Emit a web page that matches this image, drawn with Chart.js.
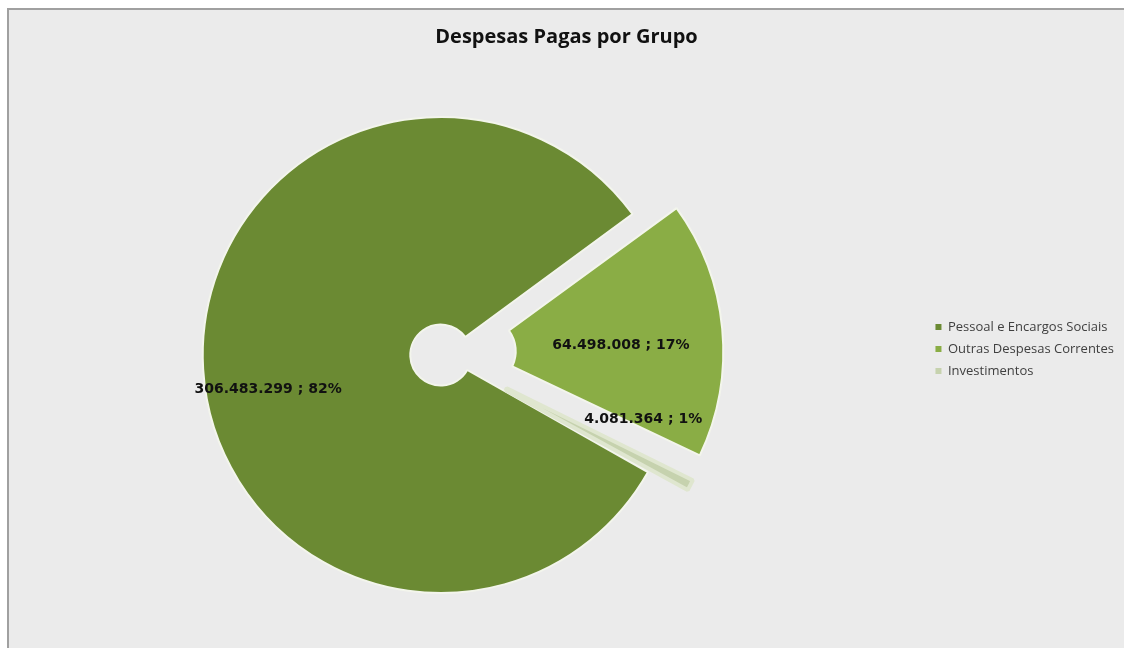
<!DOCTYPE html>
<html>
<head>
<meta charset="utf-8">
<script src="https://cdn.jsdelivr.net/npm/chart.js@4.4.1/dist/chart.umd.min.js"></script>
<style>
  html, body { margin: 0; padding: 0; background: #ffffff; }
  #frame {
    position: absolute; left: 7px; top: 8px; width: 1117px; height: 640px;
    box-sizing: border-box; background: #ebebeb;
    border-left: 2px solid #a0a0a0; border-top: 2px solid #a0a0a0;
  }
  #wrap { position: relative; width: 1115px; height: 638px; }
</style>
</head>
<body>
<div id="frame"><div id="wrap"><canvas id="grafico"></canvas></div></div>
<script>
// Dados do gráfico
const grupos = ['Pessoal e Encargos Sociais', 'Outras Despesas Correntes', 'Investimentos'];
const valores = [306483299, 64498008, 4081364];
const cores = ['#6b8a33', '#8aad45', '#c6d2ae'];
const destaque = [0, 160, 90]; // "explode" das fatias

function formatarNumero(n) {
  return String(n).replace(/\B(?=(\d{3})+(?!\d))/g, '.');
}

// Encolhe a área da pizza pela direita e desce um pouco a legenda
const areaPizza = {
  id: 'areaPizza',
  afterLayout(chart, args, opts) {
    const a = chart.chartArea;
    a.right -= opts.shrinkRight;
    a.width = a.right - a.left;
    chart.legend.top += opts.legendDown * 2;
  }
};

// Rótulos "valor ; %" sobre as fatias
const rotulos = {
  id: 'rotulos',
  afterDatasetsDraw(chart, args, opts) {
    const meta = chart.getDatasetMeta(0);
    const dados = chart.data.datasets[0].data;
    const total = dados.reduce((s, v) => s + v, 0);
    const ctx = chart.ctx;
    ctx.save();
    ctx.font = opts.font;
    ctx.fillStyle = opts.color;
    ctx.textAlign = 'center';
    ctx.textBaseline = 'middle';
    meta.data.forEach((arc, i) => {
      const p = arc.getProps(['x', 'y', 'startAngle', 'endAngle', 'outerRadius'], true);
      const meio = (p.startAngle + p.endAngle) / 2;
      const desloc = (arc.options.offset || 0) / 4;
      const cfg = opts.placement[i];
      const ang = meio + cfg.shift * Math.PI / 180;
      const r = cfg.f * p.outerRadius;
      const x = p.x + Math.cos(meio) * desloc + Math.cos(ang) * r;
      const y = p.y + Math.sin(meio) * desloc + Math.sin(ang) * r;
      const pct = Math.round(dados[i] / total * 100);
      ctx.fillText(formatarNumero(dados[i]) + ' ; ' + pct + '%', x, y);
    });
    ctx.restore();
  }
};

new Chart(document.getElementById('grafico'), {
  type: 'doughnut',
  data: {
    labels: grupos,
    datasets: [{
      data: valores,
      backgroundColor: cores,
      borderColor: ['#f3f5ec', '#f3f5ec', '#dfe6cf'],
      borderWidth: [2, 2, 4],
      offset: destaque
    }]
  },
  options: {
    responsive: true,
    maintainAspectRatio: false,
    animation: false,
    rotation: 119.5,
    radius: 238,
    cutout: 27,
    layout: { padding: 0 },
    plugins: {
      tooltip: { enabled: false },
      title: {
        display: true,
        text: 'Despesas Pagas por Grupo',
        color: '#111111',
        font: { family: 'Open Sans', size: 20, weight: 'bold' },
        padding: { top: 15, bottom: 13 }
      },
      legend: {
        position: 'right',
        labels: {
          boxWidth: 6,
          boxHeight: 6,
          padding: 9,
          color: '#404040',
          font: { family: 'Open Sans', size: 13 },
          generateLabels(chart) {
            const itens = Chart.overrides.doughnut.plugins.legend.labels.generateLabels(chart);
            return itens.map((it) => ({ ...it, lineWidth: 0 }));
          }
        }
      },
      areaPizza: { shrinkRight: 54, legendDown: 20 },
      rotulos: {
        font: 'bold 14px "DejaVu Sans"',
        color: '#111111',
        placement: [
          { f: 0.74, shift: -8 },
          { f: 0.59, shift: 3 },
          { f: 0.80, shift: -11 }
        ]
      }
    }
  },
  plugins: [areaPizza, rotulos]
});
</script>
</body>
</html>
